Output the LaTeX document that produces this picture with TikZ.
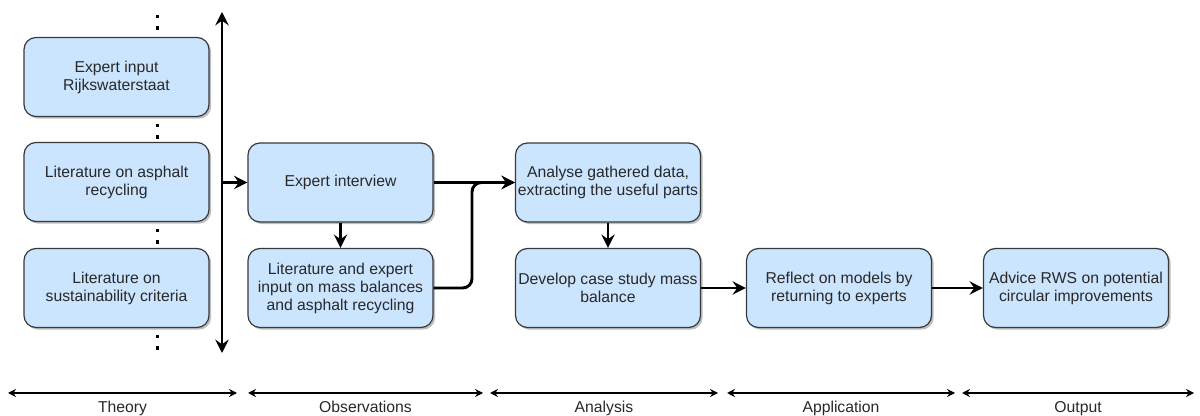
\documentclass[tikz,border=0pt]{standalone}
\usepackage{fontspec}
\setmainfont{Liberation Sans}
\usetikzlibrary{arrows.meta,positioning,shadows}
\definecolor{boxFill}{RGB}{204,229,255}
\definecolor{boxLine}{RGB}{54,57,61}
\definecolor{txtGray}{RGB}{40,40,40}

\begin{document}
\begin{tikzpicture}[x=0.75pt, y=-0.75pt,
  stage/.style={draw=boxLine, line width=0.9pt, fill=boxFill, rounded corners=9pt,
    minimum width=138.75pt, minimum height=59.25pt, align=center, inner sep=1pt,
    font=\fontsize{11.8}{13.5}\selectfont, text=txtGray,
    drop shadow={shadow xshift=1.6pt, shadow yshift=-1.6pt, opacity=0.25, fill=black}},
  flow/.style={-{Stealth[length=10pt,width=10pt,inset=3.5pt]}, line width=2.2pt},
  bothflow/.style={{Stealth[length=10pt,width=10pt,inset=3.5pt]}-{Stealth[length=10pt,width=10pt,inset=3.5pt]}, line width=2.2pt},
  span/.style={{Stealth[length=6pt,width=6pt,inset=2pt]}-{Stealth[length=6pt,width=6pt,inset=2pt]}, line width=1.4pt},
  dots/.style={line width=2.25pt, dash pattern=on 2.6pt off 6pt, dash phase=3.4pt},
  phase/.style={font=\fontsize{11.8}{13.5}\selectfont, text=txtGray}
]
  \useasboundingbox (0,0) rectangle (1200,416);

  % theory column
  \node[stage] (th1) at (116.5, 77)  {Expert input\\Rijkswaterstaat};
  \node[stage] (th2) at (116.5, 182) {Literature on asphalt\\recycling};
  \node[stage] (th3) at (116.5, 288) {Literature on\\sustainability criteria};
  \draw[dots] ([xshift=31pt]th1.north) -- ++(0,-27);
  \draw[dots] ([xshift=31pt]th1.south) -- ([xshift=31pt]th2.north);
  \draw[dots] ([xshift=31pt]th2.south) -- ([xshift=31pt]th3.north);
  \draw[dots] ([xshift=31pt]th3.south) -- ++(0,28);

  % collector line
  \coordinate (vTop) at (222, 12);
  \coordinate (vBot) at (222, 353);
  \coordinate (vTap) at (222, 182.5);
  \draw[bothflow] (vBot) -- (vTop);

  % observations
  \node[stage] (obs1) at (340.5, 182.5) {Expert interview};
  \node[stage] (obs2) at (340.5, 288)   {Literature and expert\\input on mass balances\\and asphalt recycling};

  % analysis
  \node[stage] (ana1) at (608, 182.5) {Analyse gathered data,\\extracting the useful parts};
  \node[stage] (ana2) at (608, 288)   {Develop case study mass\\balance};

  % application and output
  \node[stage] (app) at (839, 288)  {Reflect on models by\\returning to experts};
  \node[stage] (out) at (1076, 288) {Advice RWS on potential\\circular improvements};

  \coordinate (merge) at (472, 182.5);
  \draw[flow] (vTap) -- (obs1.west);
  \draw[flow] (obs1.south) -- (obs2.north);
  \draw[flow] (obs1.east) -- (ana1.west);
  \draw[flow, rounded corners=7pt] (obs2.east) -| (merge) -- (ana1.west);
  \draw[flow] (ana1.south) -- (ana2.north);
  \draw[flow] (ana2.east) -- (app.west);
  \draw[flow] (app.east) -- (out.west);

  % phase axis
  \coordinate (t0) at (8, 393);    \coordinate (t1) at (237, 393);
  \coordinate (o0) at (248, 393);  \coordinate (o1) at (483, 393);
  \coordinate (n0) at (490, 393);  \coordinate (n1) at (718, 393);
  \coordinate (p0) at (727, 393);  \coordinate (p1) at (955, 393);
  \coordinate (u0) at (962, 393);  \coordinate (u1) at (1194, 393);
  \draw[span] (t0) -- (t1) node[phase, midway, below=2pt] (lblTheory) {Theory};
  \draw[span] (o0) -- (o1) node[phase, midway, below=2pt] (lblObs) {Observations};
  \draw[span] (n0) -- (n1) node[phase, midway, below=2pt] (lblAna) {Analysis};
  \draw[span] (p0) -- (p1) node[phase, midway, below=2pt] (lblApp) {Application};
  \draw[span] (u0) -- (u1) node[phase, midway, below=2pt] (lblOut) {Output};
\end{tikzpicture}
\end{document}
